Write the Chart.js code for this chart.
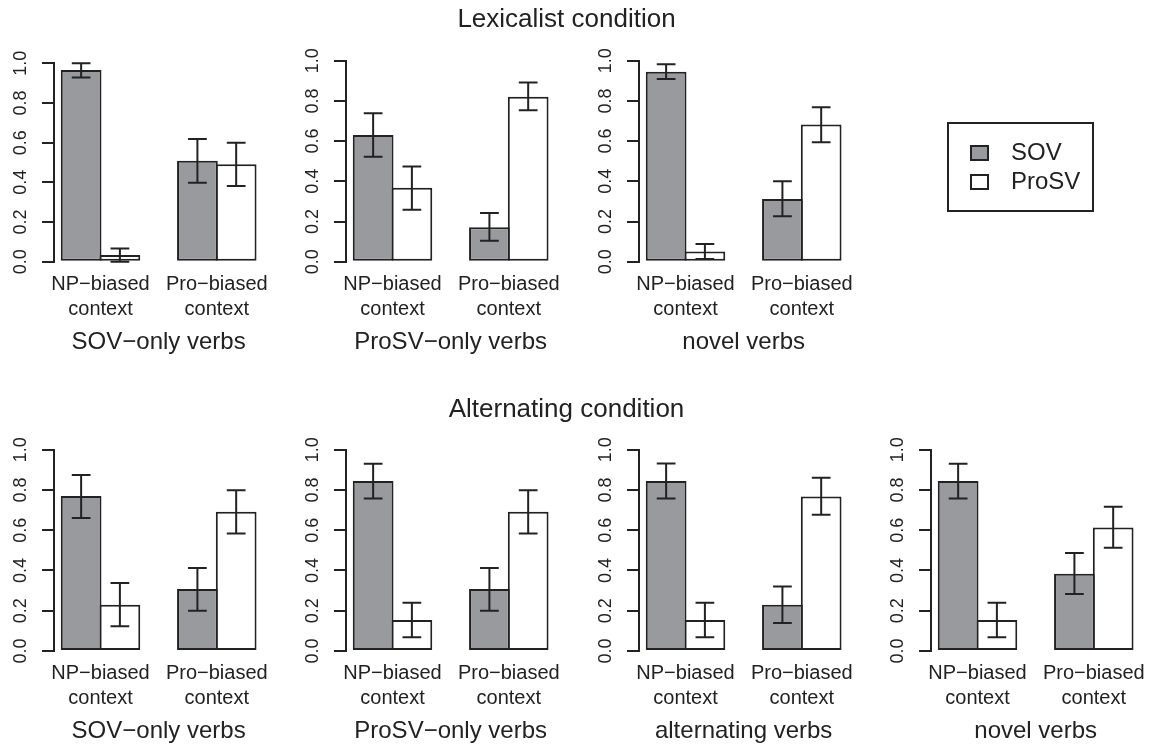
<!DOCTYPE html>
<html>
<head>
<meta charset="utf-8">
<script src="https://cdn.jsdelivr.net/npm/chart.js@4.4.1/dist/chart.umd.min.js"></script>
<style>
  html, body { margin: 0; padding: 0; background: #fff; }
  body { position: relative; width: 1153px; height: 745px; overflow: hidden; }
  canvas { position: absolute; }
  #legendBox { position: absolute; left: 947px; top: 122px; width: 147px; height: 90px;
    border: 2px solid #222; box-sizing: border-box; }
  #legendBox canvas { left: 0; top: 0; }
</style>
</head>
<body>
<div id="legendBox"></div>
<script>
// ---------------- DATA ----------------
const sectionTitles = ['Lexicalist condition', 'Alternating condition'];
const seriesNames = ['SOV', 'ProSV'];
const categories = [['NP\u2212biased', 'context'], ['Pro\u2212biased', 'context']];
const panelNames = ['SOV\u2212only verbs', 'ProSV\u2212only verbs', 'novel verbs',
                    'SOV\u2212only verbs', 'ProSV\u2212only verbs', 'alternating verbs', 'novel verbs'];
// per panel: [NP-biased, Pro-biased]
const sovMean   = [[0.966, 0.509], [0.630, 0.172], [0.945, 0.312], [0.770, 0.308], [0.844, 0.308], [0.844, 0.230], [0.844, 0.384]];
const sovLow    = [[0.929, 0.398], [0.522, 0.104], [0.909, 0.226], [0.661, 0.200], [0.758, 0.200], [0.757, 0.139], [0.758, 0.283]];
const sovHigh   = [[1.000, 0.618], [0.738, 0.242], [0.982, 0.400], [0.874, 0.412], [0.930, 0.412], [0.932, 0.321], [0.930, 0.487]];
const prosvMean = [[0.034, 0.491], [0.368, 0.821], [0.051, 0.682], [0.230, 0.692], [0.154, 0.692], [0.154, 0.768], [0.154, 0.614]];
const prosvLow  = [[0.000, 0.382], [0.259, 0.753], [0.013, 0.594], [0.123, 0.584], [0.068, 0.584], [0.068, 0.677], [0.068, 0.513]];
const prosvHigh = [[0.067, 0.600], [0.474, 0.892], [0.088, 0.768], [0.338, 0.798], [0.240, 0.798], [0.240, 0.861], [0.240, 0.717]];
const yTickStep = 0.2;

// ---------------- LAYOUT / STYLE ----------------
const groupCenters = [2, 5];      // bar-unit positions of the two groups (R barplot layout)
const xRange = [0.8, 6.2];
const panelLayout = [
  {ax: 54,  y1: 63.3,  y0: 261.7},
  {ax: 346, y1: 60.7,  y0: 261.7},
  {ax: 639, y1: 60.7,  y0: 261.7},
  {ax: 54,  y1: 449.7, y0: 651},
  {ax: 346, y1: 449.7, y0: 651},
  {ax: 639, y1: 449.7, y0: 651},
  {ax: 931, y1: 449.7, y0: 651}
];
const plotW = 212, yAxisW = 60, padRight = 15, canvasH = 320;
const ink = '#222222';
const fills = ['#999a9e', '#ffffff'];
const FONT = "'Liberation Sans', Arial, Helvetica, sans-serif";

Chart.defaults.font.family = FONT;
Chart.defaults.color = ink;

function makeCanvas(parent, left, top, w, h) {
  const c = document.createElement('canvas');
  c.width = w; c.height = h;
  c.style.left = left + 'px'; c.style.top = top + 'px';
  c.style.width = w + 'px'; c.style.height = h + 'px';
  parent.appendChild(c);
  return c;
}

const errorBars = {
  id: 'errorBars',
  afterDatasetsDraw(chart) {
    const ctx = chart.ctx, ys = chart.scales.y;
    ctx.save();
    ctx.strokeStyle = ink; ctx.lineWidth = 2; ctx.lineCap = 'butt';
    chart.data.datasets.forEach((ds, di) => {
      const meta = chart.getDatasetMeta(di);
      meta.data.forEach((bar, j) => {
        const x = bar.x, hw = bar.width * 0.23;
        const yl = ys.getPixelForValue(ds.errLow[j]);
        const yh = ys.getPixelForValue(ds.errHigh[j]);
        ctx.beginPath();
        ctx.moveTo(x, yl); ctx.lineTo(x, yh);
        ctx.moveTo(x - hw, yl); ctx.lineTo(x + hw, yl);
        ctx.moveTo(x - hw, yh); ctx.lineTo(x + hw, yh);
        ctx.stroke();
      });
    });
    ctx.restore();
  }
};

// ---------------- PANELS ----------------
panelLayout.forEach((L, p) => {
  const cLeft = L.ax - yAxisW;
  const cTop = Math.round(L.y1) - 20;
  const cW = yAxisW + plotW + padRight;
  const padTop = L.y1 - cTop;
  const xAxisH = canvasH - (L.y0 - cTop);
  const titleMid = L.y0 + 80.8;
  const titlePadBottom = (cTop + canvasH) - titleMid - 14.4;
  const unitPx = plotW / (xRange[1] - xRange[0]);
  const canvas = makeCanvas(document.body, cLeft, cTop, cW, canvasH);

  const series = [
    {mean: sovMean[p], lo: sovLow[p], hi: sovHigh[p]},
    {mean: prosvMean[p], lo: prosvLow[p], hi: prosvHigh[p]}
  ];

  new Chart(canvas, {
    type: 'bar',
    data: {
      datasets: series.map((s, i) => ({
        label: seriesNames[i],
        data: groupCenters.map((g, j) => ({x: g, y: s.mean[j]})),
        errLow: s.lo,
        errHigh: s.hi,
        backgroundColor: fills[i],
        borderColor: ink,
        borderWidth: 2,
        borderSkipped: false,
        inflateAmount: 0,
        categoryPercentage: 2 / 3,
        barPercentage: (unitPx + 2) / unitPx
      }))
    },
    options: {
      responsive: false,
      animation: false,
      devicePixelRatio: 1,
      layout: {padding: {top: padTop, left: 0, right: padRight, bottom: 0}},
      plugins: {legend: {display: false}, tooltip: {enabled: false}},
      scales: {
        x: {
          type: 'linear',
          min: xRange[0], max: xRange[1],
          offset: false,
          grid: {display: false, drawTicks: false},
          border: {display: false},
          afterBuildTicks: (s) => { s.ticks = groupCenters.map(v => ({value: v})); },
          afterFit: (s) => { s.height = xAxisH; },
          ticks: {
            autoSkip: false,
            maxRotation: 0, minRotation: 0,
            padding: 10,
            color: ink,
            font: {size: 20, lineHeight: 1.25},
            callback: (v, i) => categories[i]
          },
          title: {
            display: true,
            text: panelNames[p],
            color: ink,
            font: {size: 24},
            padding: {top: 0, bottom: titlePadBottom}
          }
        },
        y: {
          min: 0, max: 1,
          afterFit: (s) => { s.width = yAxisW; },
          grid: {drawOnChartArea: false, drawTicks: true, tickLength: 12, color: ink, lineWidth: 2},
          border: {display: true, color: ink, width: 2},
          ticks: {
            stepSize: yTickStep,
            autoSkip: false,
            minRotation: 90, maxRotation: 90,
            crossAlign: 'center',
            padding: 8,
            color: ink,
            font: {size: 18},
            callback: (v) => Number(v).toFixed(1)
          }
        }
      }
    },
    plugins: [errorBars]
  });
});

// ---------------- SECTION TITLES ----------------
[{top: 0, pad: 4.6}, {top: 385, pad: 8.9}].forEach((t, i) => {
  const c = makeCanvas(document.body, 0, t.top, 1133, 45);
  new Chart(c, {
    type: 'bar',
    data: {labels: [], datasets: []},
    options: {
      responsive: false, animation: false, devicePixelRatio: 1,
      plugins: {
        legend: {display: false}, tooltip: {enabled: false},
        title: {display: true, text: sectionTitles[i], color: ink,
                font: {size: 26, weight: 'normal'}, padding: {top: t.pad, bottom: 0}}
      },
      scales: {x: {display: false}, y: {display: false}}
    }
  });
});

// ---------------- LEGEND ----------------
function swatch(color) {
  const c = document.createElement('canvas');
  c.width = 29; c.height = 16;
  const g = c.getContext('2d');
  g.fillStyle = color; g.fillRect(1, 1, 17, 14);
  g.strokeStyle = ink; g.lineWidth = 2; g.strokeRect(1, 1, 17, 14);
  return c;
}
const swatches = fills.map(swatch);
// canvas taller than the framed box so the legend gets enough layout room (transparent overflow)
const legendCanvas = makeCanvas(document.getElementById('legendBox'), 0, 0, 143, 220);
new Chart(legendCanvas, {
  type: 'bar',
  data: {labels: [], datasets: seriesNames.map((n, i) => ({label: n, data: [], backgroundColor: fills[i], borderColor: ink}))},
  options: {
    responsive: false, animation: false, devicePixelRatio: 1,
    layout: {padding: {left: 16, top: 12}},
    scales: {x: {display: false}, y: {display: false}},
    plugins: {
      tooltip: {enabled: false},
      legend: {
        display: true, position: 'top', align: 'start',
        labels: {
          usePointStyle: true, pointStyleWidth: 29, padding: 5,
          color: ink, font: {size: 24},
          generateLabels: (chart) => chart.data.datasets.map((ds, i) => ({
            text: ds.label, fillStyle: ds.backgroundColor, strokeStyle: ink,
            lineWidth: 2, pointStyle: swatches[i], hidden: false, datasetIndex: i, fontColor: ink
          }))
        }
      }
    }
  }
});
</script>
</body>
</html>
